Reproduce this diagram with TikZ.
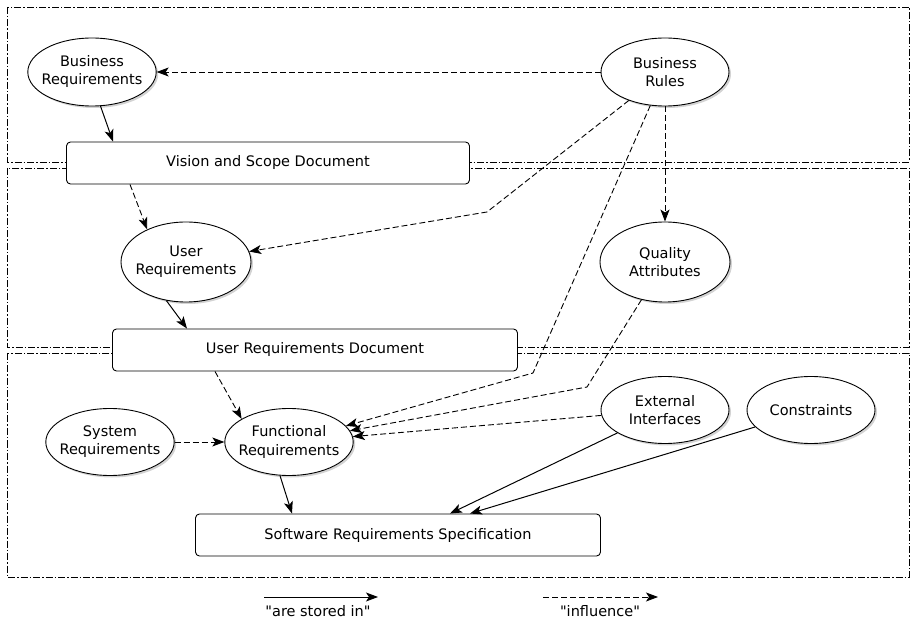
\documentclass[tikz,border=0pt]{standalone}
\usepackage{fontspec}
\setmainfont{DejaVu Sans}[Ligatures=TeXOff]
\usetikzlibrary{shapes.geometric,shadows,arrows.meta}

\begin{document}
\begin{tikzpicture}[x=1pt, y=-1pt, font=\fontsize{14.5}{18}\selectfont,
  oval/.style = {draw, ellipse, fill=white, align=center, line width=0.9pt,
    inner xsep=-5pt, inner ysep=0pt, minimum width=128pt, minimum height=67pt,
    drop shadow={shadow xshift=2pt, shadow yshift=-2pt, opacity=0.35}},
  doc/.style = {draw, rounded corners=4pt, fill=white, line width=0.9pt,
    minimum width=405pt, minimum height=42pt},
  store/.style = {-{Stealth[length=12pt,width=9pt,inset=3pt]}, line width=1pt},
  infl/.style = {-{Stealth[length=12pt,width=9pt,inset=3pt]}, line width=0.9pt, dash pattern=on 6pt off 3pt},
  frame/.style = {line width=0.6pt, dash pattern=on 7pt off 2pt on 1.5pt off 2pt}]
\useasboundingbox (0,0) rectangle (911,620);

\draw[frame] (7,7) rectangle (909,162);
\draw[frame] (7,168) rectangle (909,347);
\draw[frame] (7,353) rectangle (909,577);

\node[oval, minimum height=68pt] (busreq) at (92,72) {Business\\Requirements};
\node[oval, minimum height=68pt] (rules) at (665,72) {Business\\Rules};
\node[doc, minimum width=403pt] (vision) at (268,163) {Vision and Scope Document};
\node[oval, minimum width=130pt, minimum height=80pt] (userreq) at (186,262) {User\\Requirements};
\node[oval, minimum width=130pt, minimum height=80pt] (quality) at (665,262) {Quality\\Attributes};
\node[doc] (urd) at (315,350) {User Requirements Document};
\node[oval, minimum width=126pt] (sysreq) at (110,442) {System\\Requirements};
\node[oval] (func) at (289,442) {Functional\\Requirements};
\node[oval] (extif) at (665,410) {External\\Interfaces};
\node[oval] (constr) at (811,410) {Constraints};
\node[doc] (srs) at (398,535) {Software Requirements Specification};

\coordinate (bendA) at (487,212);
\coordinate (bendB) at (533,373);
\coordinate (bendC) at (587,387);

\draw[infl] (rules) -- (busreq);
\draw[store] (busreq.284) -- ([xshift=-155pt]vision.north);
\draw[infl] ([xshift=-138pt]vision.south) -- (userreq.140);
\draw[infl] (rules) -- (bendA) -- (userreq);
\draw[infl] (rules) -- (quality);
\draw[store] (userreq.243) -- ([xshift=-128pt]urd.north);
\draw[infl] ([xshift=-100pt]urd.south) -- (func.154);
\draw[infl] (sysreq) -- (func);
\draw[infl] (rules) -- (bendB) -- (func);
\draw[infl] (quality) -- (bendC) -- (func);
\draw[infl] (extif) -- (func);
\draw[store] (func.255) -- ([xshift=-106pt]srs.north);
\draw[store] (extif) -- ([xshift=52pt]srs.north);
\draw[store] (constr) -- ([xshift=72pt]srs.north);

\coordinate (storeA) at (264,597);
\coordinate (storeB) at (378,597);
\draw[store] (storeA) -- (storeB);
\node (storelabel) at (318,611) {"are stored in"};
\coordinate (inflA) at (543,597);
\coordinate (inflB) at (658,597);
\draw[infl] (inflA) -- (inflB);
\node (infllabel) at (600,611) {"influence"};
\end{tikzpicture}
\end{document}
